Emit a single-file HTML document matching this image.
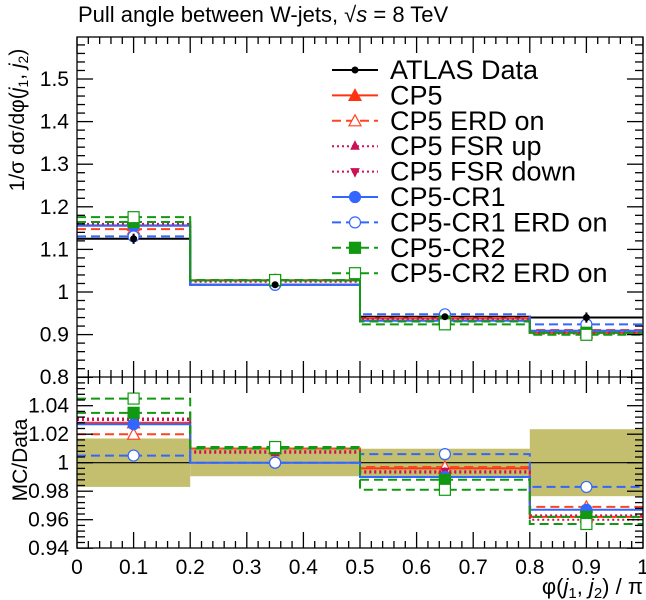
<!DOCTYPE html>
<html><head><meta charset="utf-8"><style>
body{margin:0;background:#fff}
svg{display:block;font-family:"Liberation Sans",sans-serif}
</style></head><body>
<svg id="c" width="646" height="600" viewBox="0 0 646 600"></svg>
<script>
const binEdges=[0,0.2,0.5,0.8,1.0];
const binCenters=[0.1,0.35,0.65,0.9];
const dataValues=[1.125,1.017,0.942,0.940];
const dataErrors=[0.012,0.005,0.005,0.012];
const dataBand=[0.017,0.0095,0.0098,0.0235];
const rCP5=[1.028,1.010,0.996,0.962];
const rCP5ERD=[1.020,1.010,0.997,0.969];
const rFSRup=[1.030,1.007,0.993,0.960];
const rFSRdown=[1.031,1.008,0.994,0.963];
const rCR1=[1.027,1.000,0.990,0.967];
const rCR1ERD=[1.005,1.000,1.006,0.983];
const rCR2=[1.035,1.010,0.988,0.962];
const rCR2ERD=[1.045,1.011,0.981,0.957];
const topTicks=[0.8,0.9,1.0,1.1,1.2,1.3,1.4,1.5];
const topTickLabels=["0.8","0.9","1","1.1","1.2","1.3","1.4","1.5"];
const botTicks=[0.94,0.96,0.98,1.0,1.02,1.04];
const botTickLabels=["0.94","0.96","0.98","1","1.02","1.04"];
const xTicks=[0,0.1,0.2,0.3,0.4,0.5,0.6,0.7,0.8,0.9,1];
const xTickLabels=["0","0.1","0.2","0.3","0.4","0.5","0.6","0.7","0.8","0.9","1"];

const X0=77,X1=643,TT=37,MID=377,BB=548;
const sx=v=>X0+v*(X1-X0);
const sy=v=>292-(v-1)*426;
const sr=v=>462.7-(v-1)*1425;
const svg=document.getElementById('c');
const NS='http://www.w3.org/2000/svg';
function el(tag,at,parent){const e=document.createElementNS(NS,tag);for(const k in at)e.setAttribute(k,at[k]);(parent||svg).appendChild(e);return e;}
function txt(s,at,parent){const e=el('text',at,parent);e.textContent=s;return e;}

const series=[
 {name:'cp5',r:rCP5,c:'#ff3311',d:'',m:'tri',f:true},
 {name:'cp5-erd',r:rCP5ERD,c:'#ff4422',d:'9,5',m:'tri',f:false},
 {name:'cp5-fsr-up',r:rFSRup,c:'#cc1155',d:'2,3',m:'tris',f:true},
 {name:'cp5-fsr-down',r:rFSRdown,c:'#cc1155',d:'2,3',m:'trid',f:true},
 {name:'cp5-cr1',r:rCR1,c:'#3366ff',d:'',m:'circ',f:true},
 {name:'cp5-cr1-erd',r:rCR1ERD,c:'#3366ff',d:'9,5',m:'circ',f:false},
 {name:'cp5-cr2',r:rCR2,c:'#119911',d:'9,5',m:'sq',f:true},
 {name:'cp5-cr2-erd',r:rCR2ERD,c:'#119911',d:'9,5',m:'sq',f:false}
];
function marker(g,type,x,y,c,f,nm){
 let e;const fill=f?c:'#fff';
 if(type==='tri')e=el('polygon',{points:`${x},${y-6} ${x-6},${y+5} ${x+6},${y+5}`,fill,stroke:c,'stroke-width':1.2},g);
 else if(type==='tris')e=el('polygon',{points:`${x},${y-5} ${x-4},${y+3} ${x+4},${y+3}`,fill,stroke:c},g);
 else if(type==='trid')e=el('polygon',{points:`${x},${y+5} ${x-4},${y-3} ${x+4},${y-3}`,fill,stroke:c},g);
 else if(type==='circ')e=el('circle',{cx:x,cy:y,r:5.5,fill,stroke:c,'stroke-width':1.2},g);
 else if(type==='sq')e=el('rect',{x:x-5.5,y:y-5.5,width:11,height:11,fill,stroke:c,'stroke-width':1.2},g);
 else e=el('circle',{cx:x,cy:y,r:3.5,fill:'#000'},g);
 
 
}
function stepPath(vals,fy){let d='';for(let i=0;i<vals.length;i++){const y=fy(vals[i]);d+=(i?'L':'M')+sx(binEdges[i])+','+y+'L'+sx(binEdges[i+1])+','+y;}return d;}

const gb=el('g',{},svg);


for(let i=0;i<4;i++){
 const r=el('rect',{x:sx(binEdges[i]),y:sr(1+dataBand[i]),width:sx(binEdges[i+1])-sx(binEdges[i]),height:sr(1-dataBand[i])-sr(1+dataBand[i]),fill:'#c4bf6e'},gb);
 
 
}
const dl=el('line',{x1:X0,x2:X1,y1:sr(1),y2:sr(1),stroke:'#000','stroke-width':1.2},svg);



const dp=el('path',{d:stepPath(dataValues,sy),fill:'none',stroke:'#000','stroke-width':2},svg);



series.forEach(s=>{
 const g=el('g',{},svg);
 
 
 const top=s.r.map((r,i)=>r*dataValues[i]);
 el('path',{d:stepPath(top,sy),fill:'none',stroke:s.c,'stroke-width':2,'stroke-dasharray':s.d},g);
 el('path',{d:stepPath(s.r,sr),fill:'none',stroke:s.c,'stroke-width':2,'stroke-dasharray':s.d},g);
 for(let i=0;i<4;i++){
  marker(g,s.m,sx(binCenters[i]),sy(top[i]),s.c,s.f,s.name+'-marker');
  marker(g,s.m,sx(binCenters[i]),sr(s.r[i]),s.c,s.f,s.name+'-ratio-marker');
 }
});
const gd=el('g',{},svg);


for(let i=0;i<4;i++){
 const x=sx(binCenters[i]);
 el('line',{x1:x,x2:x,y1:sy(dataValues[i]+dataErrors[i]),y2:sy(dataValues[i]-dataErrors[i]),stroke:'#000','stroke-width':2},gd);
 marker(gd,'dot',x,sy(dataValues[i]),'#000',true,'data-point');
}

const fr=el('g',{fill:'none',stroke:'#000','stroke-width':1.3},svg);


el('rect',{x:X0,y:TT,width:X1-X0,height:BB-TT},fr);
el('line',{x1:X0,x2:X1,y1:MID,y2:MID},fr);
for(let v=0;v<=1.0001;v+=0.02){
 const maj=Math.abs(v*10-Math.round(v*10))<1e-6;const x=sx(v);const L=maj?16:7;
 el('line',{x1:x,x2:x,y1:TT,y2:TT+L},fr);
 el('line',{x1:x,x2:x,y1:MID-L,y2:MID+L},fr);
 el('line',{x1:x,x2:x,y1:BB,y2:BB-L},fr);
}
for(let v=0.8;v<=1.6001;v+=0.02){
 const maj=Math.abs(v*10-Math.round(v*10))<1e-6;const y=sy(v);const L=maj?16:8;
 if(y<TT-0.5||y>MID+0.5)continue;
 el('line',{x1:X0,x2:X0+L,y1:y,y2:y},fr);el('line',{x1:X1,x2:X1-L,y1:y,y2:y},fr);
}
for(let k=0;k<=30;k++){
 const v=0.94+k*0.004;const y=sr(v);if(y<MID)continue;
 const L=(k%5===0)?16:8;
 el('line',{x1:X0,x2:X0+L,y1:y,y2:y},fr);el('line',{x1:X1,x2:X1-L,y1:y,y2:y},fr);
}
const gl=el('g',{'font-size':21,fill:'#000'},svg);


topTicks.forEach((v,i)=>txt(topTickLabels[i],{x:69,y:sy(v)+7,'text-anchor':'end'},gl));
botTicks.forEach((v,i)=>txt(botTickLabels[i],{x:69,y:sr(v)+7,'text-anchor':'end'},gl));
xTicks.forEach((v,i)=>txt(xTickLabels[i],{x:sx(v),y:574,'text-anchor':'middle'},gl));

const t=txt('',{x:78,y:22,'font-size':22},svg);
t.innerHTML='Pull angle between W-jets, √<tspan font-style="italic">s</tspan> = 8 TeV';


const xt=txt('',{x:643,y:594,'font-size':22,'text-anchor':'end'},svg);
xt.innerHTML='φ(<tspan font-style="italic">j</tspan><tspan font-size="15" dy="4">1</tspan><tspan dy="-4">, </tspan><tspan font-style="italic">j</tspan><tspan font-size="15" dy="4">2</tspan><tspan dy="-4">) / π</tspan>';


const yt=txt('',{transform:'translate(24,120) rotate(-90)','font-size':21,'text-anchor':'middle'},svg);
yt.innerHTML='1/σ dσ/dφ(<tspan font-style="italic">j</tspan><tspan font-size="14" dy="4">1</tspan><tspan dy="-4">, </tspan><tspan font-style="italic">j</tspan><tspan font-size="14" dy="4">2</tspan><tspan dy="-4">)</tspan>';


const rt=txt('MC/Data',{transform:'translate(27,460) rotate(-90)','font-size':21,'text-anchor':'middle'},svg);



const legendNames=['ATLAS Data','CP5','CP5 ERD on','CP5 FSR up','CP5 FSR down','CP5-CR1','CP5-CR1 ERD on','CP5-CR2','CP5-CR2 ERD on'];
const leg=el('g',{},svg);


legendNames.forEach((n,i)=>{
 const y=70+i*25.4;
 const g=el('g',{},leg);
 
 
 if(i===0){el('line',{x1:332,x2:378,y1:y,y2:y,stroke:'#000','stroke-width':2},g);marker(g,'dot',355,y,'#000',true,'legend-marker');}
 else{const s=series[i-1];el('line',{x1:332,x2:378,y1:y,y2:y,stroke:s.c,'stroke-width':2,'stroke-dasharray':s.d},g);marker(g,s.m,355,y,s.c,s.f,'legend-marker');}
 txt(n,{x:390,y:y+9,'font-size':27},g);
});
</script>
</body></html>
